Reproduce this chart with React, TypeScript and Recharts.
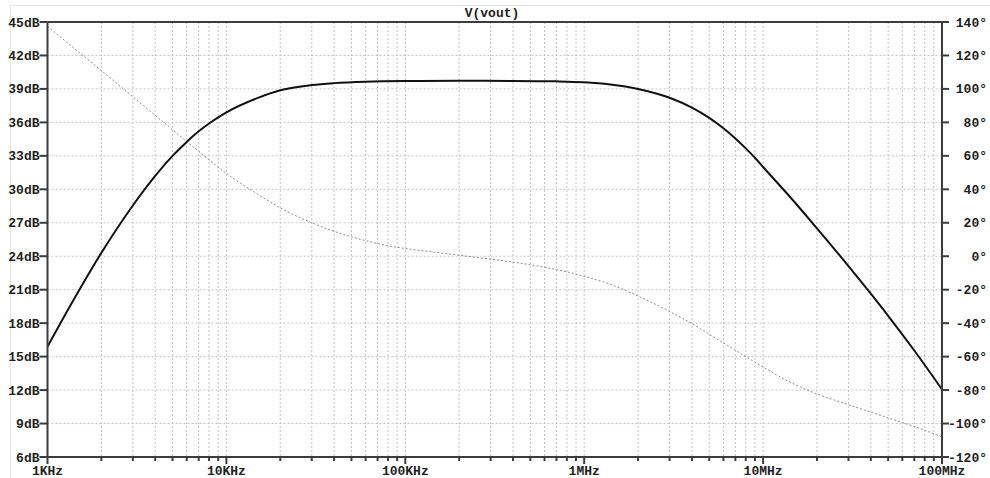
import React from 'react';
import { LineChart, Line, XAxis, YAxis, CartesianGrid, ReferenceLine } from 'recharts';

const FONT = '"Liberation Mono", "DejaVu Sans Mono", monospace';

// Magnitude curve (dB)
const magFreq = [1000, 1400, 2000, 3000, 4000, 5000, 6000, 7000, 8000, 10000, 15000, 20000, 30000, 40000, 60000, 100000, 200000, 400000, 700000, 1000000, 1400000, 2000000, 3000000, 4000000, 5000000, 6000000, 7000000, 8000000, 9000000, 10000000, 14000000, 20000000, 30000000, 40000000, 50000000, 70000000, 100000000];
const magDb = [15.9, 20.1, 24.3, 28.55, 31.2, 33.0, 34.25, 35.2, 35.9, 36.9, 38.2, 38.88, 39.35, 39.52, 39.65, 39.71, 39.73, 39.72, 39.68, 39.6, 39.4, 39.0, 38.21, 37.33, 36.41, 35.48, 34.56, 33.67, 32.83, 32.0, 29.4, 26.5, 23.12, 20.64, 18.66, 15.55, 12.06];

// Phase curve (degrees)
const phaseFreq = [1000, 1400, 2000, 3000, 4000, 5000, 6000, 7000, 8000, 10000, 15000, 20000, 30000, 40000, 50000, 60000, 70000, 80000, 100000, 150000, 200000, 300000, 400000, 500000, 600000, 700000, 800000, 1000000, 1400000, 2000000, 3000000, 4000000, 5000000, 6000000, 7000000, 8000000, 9000000, 10000000, 14000000, 20000000, 30000000, 40000000, 50000000, 60000000, 70000000, 80000000, 90000000, 100000000];
const phaseDeg = [137.4, 124.5, 110.9, 95.3, 84.2, 75.6, 68.6, 62.7, 57.6, 49.5, 37.0, 28.9, 20.0, 14.9, 11.6, 9.3, 7.6, 6.3, 4.6, 2.3, 0.6, -1.7, -3.5, -5.1, -6.6, -8.0, -9.3, -12.0, -16.8, -23.8, -33.0, -40.3, -46.6, -51.8, -56.2, -60.0, -63.3, -66.2, -75.0, -82.3, -88.7, -93.2, -96.6, -99.4, -101.8, -104.0, -106.0, -108.0];

// Axes
const decades = [1000, 10000, 100000, 1000000, 10000000, 100000000];
const decadeLabels = ['1KHz', '10KHz', '100KHz', '1MHz', '10MHz', '100MHz'];
const minorMultipliers = [1, 2, 3, 4, 5, 6, 7, 8, 9];
const dbTicks = [6, 9, 12, 15, 18, 21, 24, 27, 30, 33, 36, 39, 42, 45];
const degTicks = [-120, -100, -80, -60, -40, -20, 0, 20, 40, 60, 80, 100, 120, 140];
const title = 'V(vout)';

const freqTicks: number[] = [];
decades.forEach((d, i) => {
  if (i === decades.length - 1) freqTicks.push(d);
  else minorMultipliers.forEach((m) => freqTicks.push(m * d));
});

const magData = magFreq.map((f, i) => ({ f, v: magDb[i] }));
const phaseData = phaseFreq.map((f, i) => ({ f, v: phaseDeg[i] }));

const AXIS = '#3c3c3c';
const TXT = '#222';

const XTick = (props: any) => {
  const { x, y, payload } = props;
  const idx = decades.indexOf(payload.value);
  const major = idx >= 0;
  return (
    <g>
      <line x1={x} x2={x} y1={y} y2={y + (major ? 7 : 4)} stroke={AXIS} strokeWidth={2} />
      {major && (
        <text x={x} y={y + 18} textAnchor="middle" fontFamily={FONT} fontWeight="bold" fontSize={13} fill={TXT}>
          {decadeLabels[idx]}
        </text>
      )}
    </g>
  );
};

const LeftTick = (props: any) => {
  const { x, y, payload } = props;
  return (
    <g>
      <line x1={x - 8} x2={x} y1={y} y2={y} stroke={AXIS} strokeWidth={2} />
      <text x={x - 8} y={y} dy="0.35em" textAnchor="end" fontFamily={FONT} fontWeight="bold" fontSize={13} fill={TXT}>
        {payload.value + 'dB'}
      </text>
    </g>
  );
};

const RightTick = (props: any) => {
  const { x, y, payload } = props;
  return (
    <g>
      <line x1={x} x2={x + 7} y1={y} y2={y} stroke={AXIS} strokeWidth={2} />
      <text x={x + 45} y={y} dy="0.35em" textAnchor="end" fontFamily={FONT} fontWeight="bold" fontSize={13} fill={TXT}>
        {payload.value + '°'}
      </text>
    </g>
  );
};

export default function App() {
  return (
    <div style={{ position: 'relative', width: 990, height: 478, background: '#fff' }}>
      <style>{'body{margin:0;overflow:hidden;background:#fff}'}</style>
      <div
        style={{
          position: 'absolute',
          left: 10,
          top: 5,
          width: 980,
          height: 473,
          borderTop: '1px solid #e4e4e4',
          borderLeft: '1px solid #e4e4e4',
          pointerEvents: 'none',
        }}
      />
      <div
        style={{
          position: 'absolute',
          left: 492,
          top: 7,
          transform: 'translateX(-50%)',
          fontFamily: FONT,
          fontWeight: 'bold',
          fontSize: 13,
          lineHeight: '14px',
          color: TXT,
          whiteSpace: 'nowrap',
        }}
      >
        {title}
      </div>
      <LineChart width={990} height={478} margin={{ top: 22, right: 0, bottom: 0, left: 0 }}>
        <CartesianGrid
          yAxisId="left"
          stroke="#c2c2c2"
          strokeDasharray="2 2"
          strokeWidth={1}
        />
        <XAxis
          dataKey="f"
          type="number"
          scale="log"
          domain={[1000, 100000000]}
          ticks={freqTicks}
          allowDataOverflow
          height={21}
          tickSize={0}
          tickMargin={0}
          tickLine={false}
          axisLine={{ stroke: AXIS, strokeWidth: 2 }}
          tick={<XTick />}
          interval={0}
        />
        <YAxis
          yAxisId="left"
          orientation="left"
          type="number"
          domain={[6, 45]}
          ticks={dbTicks}
          allowDataOverflow
          width={47.5}
          tickSize={0}
          tickMargin={0}
          tickLine={false}
          axisLine={{ stroke: AXIS, strokeWidth: 2 }}
          tick={<LeftTick />}
          interval={0}
        />
        <YAxis
          yAxisId="right"
          orientation="right"
          type="number"
          domain={[-120, 140]}
          ticks={degTicks}
          allowDataOverflow
          width={48}
          tickSize={0}
          tickMargin={0}
          tickLine={false}
          axisLine={{ stroke: AXIS, strokeWidth: 2 }}
          tick={<RightTick />}
          interval={0}
        />
        <ReferenceLine yAxisId="left" y={45} stroke={AXIS} strokeWidth={2} ifOverflow="visible" />
        <Line
          yAxisId="right"
          data={phaseData}
          dataKey="v"
          type="monotone"
          stroke="#8a8a8a"
          strokeWidth={1}
          strokeDasharray="2 2"
          dot={false}
          activeDot={false}
          isAnimationActive={false}
        />
        <Line
          yAxisId="left"
          data={magData}
          dataKey="v"
          type="monotone"
          stroke="#111"
          strokeWidth={2}
          dot={false}
          activeDot={false}
          isAnimationActive={false}
        />
      </LineChart>
    </div>
  );
}
